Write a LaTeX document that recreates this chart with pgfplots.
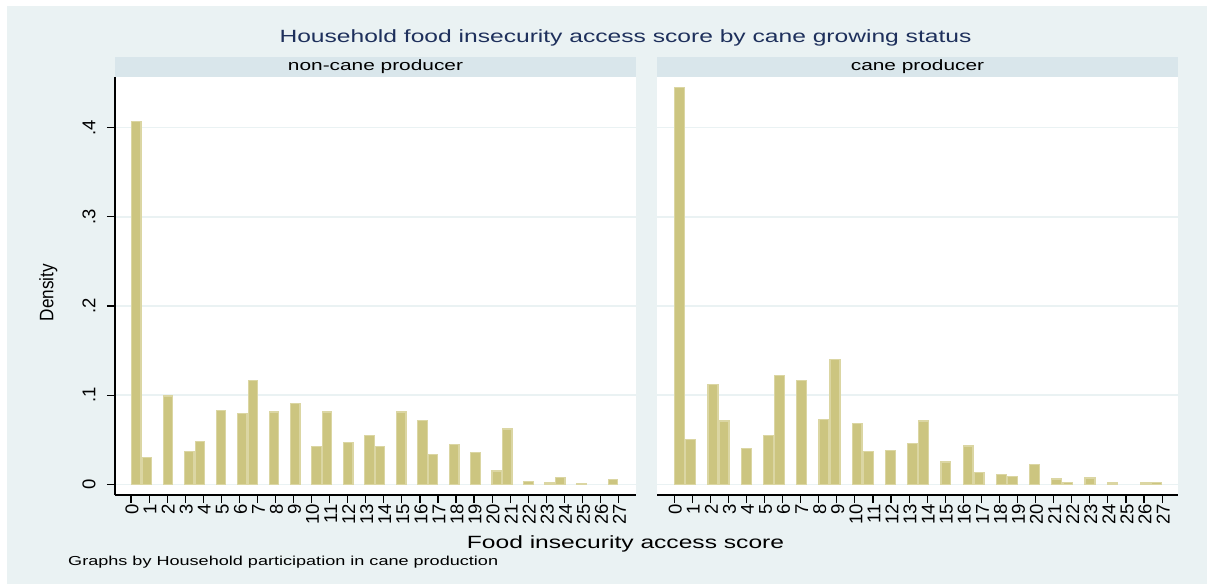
\documentclass[border=0pt]{standalone}
\usepackage{fontspec}
\setmainfont{Liberation Sans}
\newfontfamily\widefont{Liberation Sans}[FakeStretch=1.39]
\newfontfamily\narrowfont{Liberation Sans}[FakeStretch=0.88]
\usepackage{pgfplots}
\pgfplotsset{compat=1.18}
\usepackage{pgfplotstable}

\definecolor{bgc}{RGB}{234,242,243}
\definecolor{stripc}{RGB}{217,230,235}
\definecolor{barfill}{RGB}{204,197,128}
\definecolor{baredge}{RGB}{219,214,163}
\definecolor{titlec}{RGB}{30,48,92}
\definecolor{gridc}{RGB}{234,242,243}

% score, histogram bin index, density
\pgfplotstableread{
score bin density
0 0 0.407
1 1 0.030
2 3 0.099
3 5 0.037
4 6 0.048
5 8 0.083
6 10 0.079
7 11 0.116
8 13 0.081
9 15 0.091
10 17 0.042
11 18 0.081
12 20 0.047
13 22 0.055
14 23 0.042
15 25 0.081
16 27 0.072
17 28 0.033
18 30 0.045
19 32 0.036
20 34 0.015
21 35 0.062
22 37 0.003
23 39 0.0015
24 40 0.008
25 42 0.0006
27 45 0.005
}\noncane

\pgfplotstableread{
score bin density
0 0 0.445
1 1 0.050
2 3 0.112
3 4 0.071
4 6 0.040
5 8 0.055
6 9 0.122
7 11 0.116
8 13 0.073
9 14 0.140
10 16 0.068
11 17 0.037
12 19 0.038
13 21 0.046
14 22 0.071
15 24 0.025
16 26 0.043
17 27 0.013
18 29 0.011
19 30 0.009
20 32 0.022
21 34 0.006
22 35 0.002
23 37 0.007
24 39 0.0015
26 42 0.0015
27 43 0.002
}\cane

\pgfplotsset{
  panel/.style={
    scale only axis, width=521pt, height=418pt,
    anchor=south west,
    axis background/.style={fill=white},
    ymin=-0.012, ymax=0.4569,
    axis lines*=left,
    axis line style={-, black, line width=1.2pt},
    every outer x axis line/.append style={-},
    every outer y axis line/.append style={-},
    tick align=outside,
    major tick length=8pt,
    tick style={black, line width=1.2pt},
    xtick={0,1,2,3,4,5,6,7,8,9,10,11,12,13,14,15,16,17,18,19,20,21,22,23,24,25,26,27},
    xticklabels={0,1,2,3,4,5,6,7,8,9,10,11,12,13,14,15,16,17,18,19,20,21,22,23,24,25,26,27},
    xticklabel style={rotate=90, anchor=east, font=\fontsize{18.5}{18}\selectfont, inner sep=1pt, yshift=-1pt},
    ytick={0,0.1,0.2,0.3,0.4},
    ymajorgrids,
    grid style={gridc, line width=1.5pt},
    clip=false,
  },
}

\begin{document}
\begin{tikzpicture}
\fill[white] (0pt,0pt) rectangle (1207pt,584pt);
\fill[bgc] (7pt,0pt) rectangle (1207pt,578pt);
\fill[stripc] (115pt,507pt) rectangle (636pt,527pt);
\fill[stripc] (657pt,507pt) rectangle (1178pt,527pt);

\node[text=titlec, font=\widefont\fontsize{17.7}{20}\selectfont] at (625.5pt,546pt) {Household food insecurity access score by cane growing status};
\node[font=\widefont\fontsize{15}{17}\selectfont] at (375.5pt,517pt) {non-cane producer};
\node[font=\widefont\fontsize{15}{17}\selectfont] at (917.5pt,517pt) {cane producer};
\node[font=\widefont\fontsize{17.7}{20}\selectfont] at (625.5pt,40pt) {Food insecurity access score};
\node[anchor=west, inner sep=0pt, font=\widefont\fontsize{13}{15}\selectfont] at (68pt,21.5pt) {Graphs by Household participation in cane production};
\node[rotate=90, font=\narrowfont\fontsize{19.5}{20}\selectfont] at (48.3pt,291.5pt) {Density};

\begin{axis}[panel, at={(115pt,89pt)},
  xmin=-0.89, xmax=27.97,
  yticklabels={0,.1,.2,.3,.4},
  yticklabel style={rotate=90, anchor=south, font=\fontsize{18.5}{18}\selectfont, yshift=8pt},
]
\addplot[ybar, bar width=0.521, bar shift=0pt, fill=barfill, draw=baredge, line width=1.2pt]
  table[x expr={(\thisrow{bin}+0.5)*27/46}, y=density]{\noncane};
\end{axis}

\begin{axis}[panel, at={(657pt,89pt)},
  xmin=-0.95, xmax=27.88,
  yticklabels={},
  y axis line style={draw=none},
  ytick style={draw=none},
]
\addplot[ybar, bar width=0.547, bar shift=0pt, fill=barfill, draw=baredge, line width=1.2pt]
  table[x expr={(\thisrow{bin}+0.5)*27/44}, y=density]{\cane};
\end{axis}
\end{tikzpicture}
\end{document}
